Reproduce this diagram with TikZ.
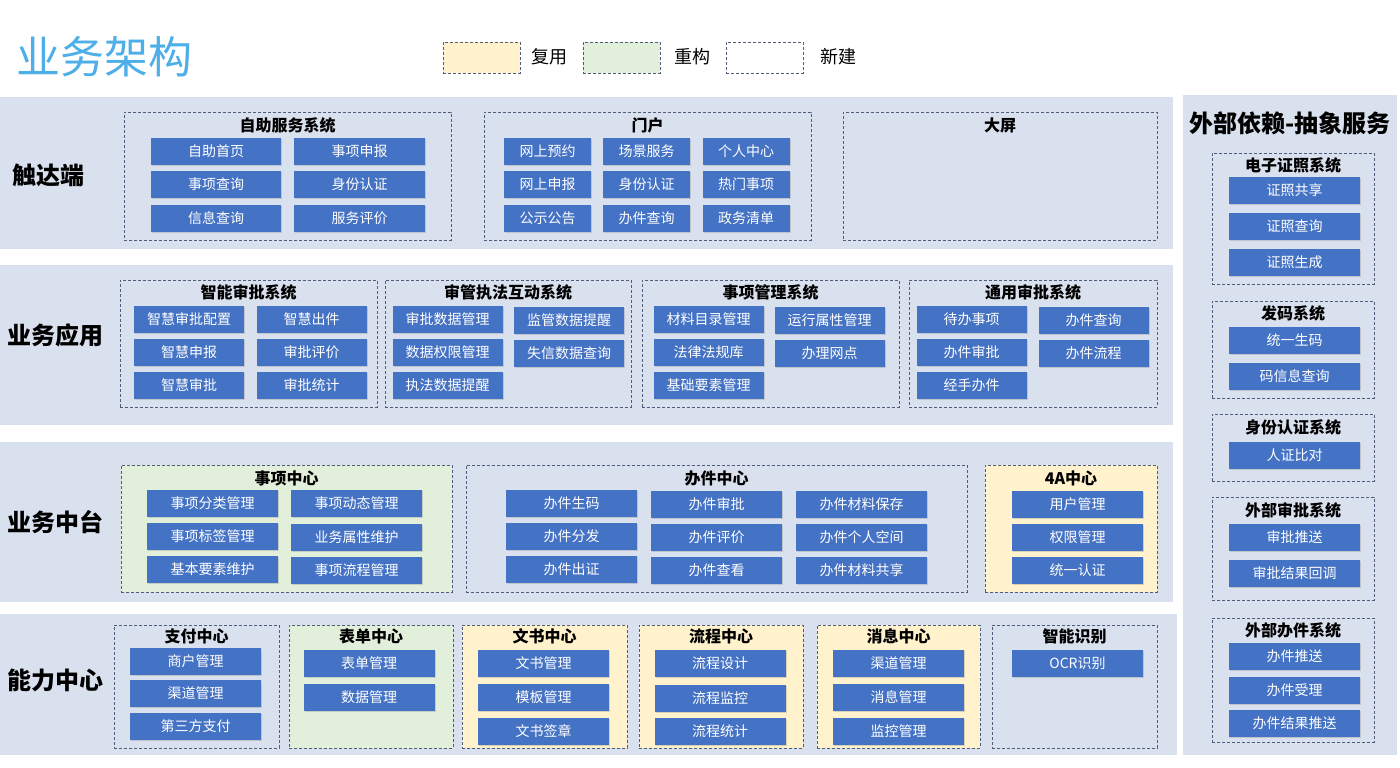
\documentclass[tikz,border=0pt]{standalone}
\usepackage{fontspec}
\setmainfont{Noto Sans CJK SC}
\usetikzlibrary{shadows,fit}
\definecolor{band}{HTML}{DAE1EE}
\definecolor{bluebox}{HTML}{4472C4}
\definecolor{dashc}{HTML}{4F5D7A}
\definecolor{reuse}{HTML}{FFF2CC}
\definecolor{rebuild}{HTML}{E2EFDA}
\definecolor{titleblue}{HTML}{4DAEE8}
\tikzset{
 bandbox/.style={fill=band, draw=none, inner sep=0pt},
 grp/.style={draw=dashc, line width=0.9pt, dash pattern=on 3pt off 2pt, inner sep=0pt},
 bb/.style={fill=bluebox, text=white, font=\fontsize{14}{14}\selectfont, minimum height=27pt, inner sep=0pt,
   drop shadow={shadow xshift=1pt, shadow yshift=-1.5pt, opacity=0.3}},
 gtitle/.style={font=\fontsize{16}{16}\selectfont\bfseries, inner sep=0pt},
 rlabel/.style={font=\fontsize{24}{24}\selectfont\bfseries, anchor=west, inner sep=0pt},
 legtext/.style={font=\fontsize{18}{18}\selectfont, inner sep=0pt},
}
\newcommand\bx[5]{\node[bb, minimum width=#4pt] (#1) at (#2,#3) {#5};}
\begin{document}
\begin{tikzpicture}[x=1pt,y=-1pt]
\useasboundingbox[fill=white] (0,0) rectangle (1400,768);
% title and legend
\node[font=\fontsize{44}{44}\selectfont, text=titleblue, anchor=west, inner sep=0pt] (title) at (16,57) {业务架构};
\node[grp, fill=reuse, fit={(443,42) (520,73)}] (leg1) {};
\node[legtext, anchor=west] (leg1t) at (531,57) {复用};
\node[grp, fill=rebuild, fit={(583,42) (660,73)}] (leg2) {};
\node[legtext, anchor=west] (leg2t) at (674,57) {重构};
\node[grp, fill=white, fit={(726,42) (803,73)}] (leg3) {};
\node[legtext, anchor=west] (leg3t) at (820,57) {新建};

% bands
\node[bandbox, fit={(0,97) (1173,249)}] (band1) {};
\node[bandbox, fit={(0,265) (1173,425)}] (band2) {};
\node[bandbox, fit={(0,442) (1173,602)}] (band3) {};
\node[bandbox, fit={(0,614) (1177,755)}] (band4) {};
\node[bandbox, fit={(1183,95) (1397,755)}] (bandR) {};

\node[rlabel] (lab1) at (12,175) {触达端};
\node[rlabel] (lab2) at (7,335) {业务应用};
\node[rlabel] (lab3) at (7,522) {业务中台};
\node[rlabel] (lab4) at (7,680) {能力中心};

% row 1
\node[grp, fit={(124,112) (451,240)}] (g11) {};
\node[gtitle] (g11t) at (287.5,125) {自助服务系统};
\bx{a1}{216}{151}{130}{自助首页}
\bx{a2}{359.5}{151}{131}{事项申报}
\bx{a3}{216}{184}{130}{事项查询}
\bx{a4}{359.5}{184}{131}{身份认证}
\bx{a5}{216}{218}{130}{信息查询}
\bx{a6}{359.5}{218}{131}{服务评价}
\node[grp, fit={(484,112) (811,240)}] (g12) {};
\node[gtitle] (g12t) at (647.5,125) {门户};
\bx{b1}{547.5}{151}{87}{网上预约}
\bx{b2}{646.5}{151}{87}{场景服务}
\bx{b3}{746}{151}{87}{个人中心}
\bx{b4}{547.5}{184}{87}{网上申报}
\bx{b5}{646.5}{184}{87}{身份认证}
\bx{b6}{746}{184}{87}{热门事项}
\bx{b7}{547.5}{218}{87}{公示公告}
\bx{b8}{646.5}{218}{87}{办件查询}
\bx{b9}{746}{218}{87}{政务清单}
\node[grp, fit={(843,112) (1157,240)}] (g13) {};
\node[gtitle] (g13t) at (1000,125) {大屏};

% row 2
\node[grp, fit={(120,280) (377,407)}] (g21) {};
\node[gtitle] (g21t) at (248.5,292) {智能审批系统};
\bx{c1}{189}{319}{110}{智慧审批配置}
\bx{c2}{311.5}{319}{110}{智慧出件}
\bx{c3}{189}{352}{110}{智慧申报}
\bx{c4}{311.5}{352}{110}{审批评价}
\bx{c5}{189}{385}{110}{智慧审批}
\bx{c6}{311.5}{385}{110}{审批统计}
\node[grp, fit={(385,280) (631,407)}] (g22) {};
\node[gtitle] (g22t) at (508,292) {审管执法互动系统};
\bx{d1}{447.5}{319}{110}{审批数据管理}
\bx{d2}{569}{320}{110}{监管数据提醒}
\bx{d3}{447.5}{352}{110}{数据权限管理}
\bx{d4}{569}{353}{110}{失信数据查询}
\bx{d5}{447.5}{385}{110}{执法数据提醒}
\node[grp, fit={(642,280) (899,407)}] (g23) {};
\node[gtitle] (g23t) at (770.5,292) {事项管理系统};
\bx{e1}{708.5}{319}{110}{材料目录管理}
\bx{e2}{829.5}{320}{110}{运行属性管理}
\bx{e3}{708.5}{352}{110}{法律法规库}
\bx{e4}{829.5}{353}{110}{办理网点}
\bx{e5}{708.5}{385}{110}{基础要素管理}
\node[grp, fit={(909,280) (1157,407)}] (g24) {};
\node[gtitle] (g24t) at (1033,292) {通用审批系统};
\bx{f1}{971.5}{319}{110}{待办事项}
\bx{f2}{1093.5}{320}{110}{办件查询}
\bx{f3}{971.5}{352}{110}{办件审批}
\bx{f4}{1093.5}{353}{110}{办件流程}
\bx{f5}{971.5}{385}{110}{经手办件}

% row 3
\node[grp, fill=rebuild, fit={(121,465) (452,592)}] (g31) {};
\node[gtitle] (g31t) at (286.5,478) {事项中心};
\bx{h1}{212.5}{503}{131}{事项分类管理}
\bx{h2}{356.5}{503}{131}{事项动态管理}
\bx{h3}{212.5}{536}{131}{事项标签管理}
\bx{h4}{356.5}{537}{131}{业务属性维护}
\bx{h5}{212.5}{569}{131}{基本要素维护}
\bx{h6}{356.5}{570}{131}{事项流程管理}
\node[grp, fit={(466,465) (967,592)}] (g32) {};
\node[gtitle] (g32t) at (716.5,478) {办件中心};
\bx{i1}{571.5}{503}{131}{办件生码}
\bx{i2}{716.5}{504}{131}{办件审批}
\bx{i3}{861.5}{504}{131}{办件材料保存}
\bx{i4}{571.5}{536}{131}{办件分发}
\bx{i5}{716.5}{537}{131}{办件评价}
\bx{i6}{861.5}{537}{131}{办件个人空间}
\bx{i7}{571.5}{569}{131}{办件出证}
\bx{i8}{716.5}{570}{131}{办件查看}
\bx{i9}{861.5}{570}{131}{办件材料共享}
\node[grp, fill=reuse, fit={(985,465) (1157,592)}] (g33) {};
\node[gtitle] (g33t) at (1071,478) {4A中心};
\bx{j1}{1077.5}{504}{131}{用户管理}
\bx{j2}{1077.5}{537}{131}{权限管理}
\bx{j3}{1077.5}{570}{131}{统一认证}

% row 4
\node[grp, fit={(114,625) (279,748)}] (g41) {};
\node[gtitle] (g41t) at (196.5,636) {支付中心};
\bx{k1}{195.5}{661}{131}{商户管理}
\bx{k2}{195.5}{693}{131}{渠道管理}
\bx{k3}{195.5}{726}{131}{第三方支付}
\node[grp, fill=rebuild, fit={(289,625) (453,748)}] (g42) {};
\node[gtitle] (g42t) at (371,636) {表单中心};
\bx{l1}{369}{663}{131}{表单管理}
\bx{l2}{369}{697}{131}{数据管理}
\node[grp, fill=reuse, fit={(462,625) (627,748)}] (g43) {};
\node[gtitle] (g43t) at (544.5,636) {文书中心};
\bx{m1}{543.5}{663}{131}{文书管理}
\bx{m2}{543.5}{697}{131}{模板管理}
\bx{m3}{543.5}{731}{131}{文书签章}
\node[grp, fill=reuse, fit={(639,625) (803,748)}] (g44) {};
\node[gtitle] (g44t) at (721,636) {流程中心};
\bx{n1}{720}{663}{131}{流程设计}
\bx{n2}{720}{698}{131}{流程监控}
\bx{n3}{720}{731}{131}{流程统计}
\node[grp, fill=reuse, fit={(817,625) (980,748)}] (g45) {};
\node[gtitle] (g45t) at (898.5,636) {消息中心};
\bx{o1}{898.5}{663}{131}{渠道管理}
\bx{o2}{898.5}{697}{131}{消息管理}
\bx{o3}{898.5}{731}{131}{监控管理}
\node[grp, fit={(992,625) (1157,748)}] (g46) {};
\node[gtitle] (g46t) at (1074.5,636) {智能识别};
\bx{p1}{1077.5}{663}{131}{OCR识别}

% right column
\node[font=\fontsize{24}{24}\selectfont\bfseries, inner sep=0pt] (rt) at (1290,123) {外部依赖-抽象服务};
\node[grp, fit={(1212,153) (1374,284)}] (r1) {};
\node[gtitle] (r1t) at (1293,165) {电子证照系统};
\bx{q1}{1294.5}{190}{131}{证照共享}
\bx{q2}{1294.5}{226}{131}{证照查询}
\bx{q3}{1294.5}{262}{131}{证照生成}
\node[grp, fit={(1212,301) (1374,398)}] (r2) {};
\node[gtitle] (r2t) at (1293,313) {发码系统};
\bx{s1}{1294.5}{340}{131}{统一生码}
\bx{s2}{1294.5}{376}{131}{码信息查询}
\node[grp, fit={(1212,414) (1374,481)}] (r3) {};
\node[gtitle] (r3t) at (1293,427) {身份认证系统};
\bx{t1}{1294.5}{455}{131}{人证比对}
\node[grp, fit={(1212,497) (1374,600)}] (r4) {};
\node[gtitle] (r4t) at (1293,510) {外部审批系统};
\bx{u1}{1294.5}{537}{131}{审批推送}
\bx{u2}{1294.5}{573}{131}{审批结果回调}
\node[grp, fit={(1212,618) (1374,742)}] (r5) {};
\node[gtitle] (r5t) at (1293,630) {外部办件系统};
\bx{v1}{1294.5}{656}{131}{办件推送}
\bx{v2}{1294.5}{690}{131}{办件受理}
\bx{v3}{1294.5}{723}{131}{办件结果推送}
\end{tikzpicture}
\end{document}
